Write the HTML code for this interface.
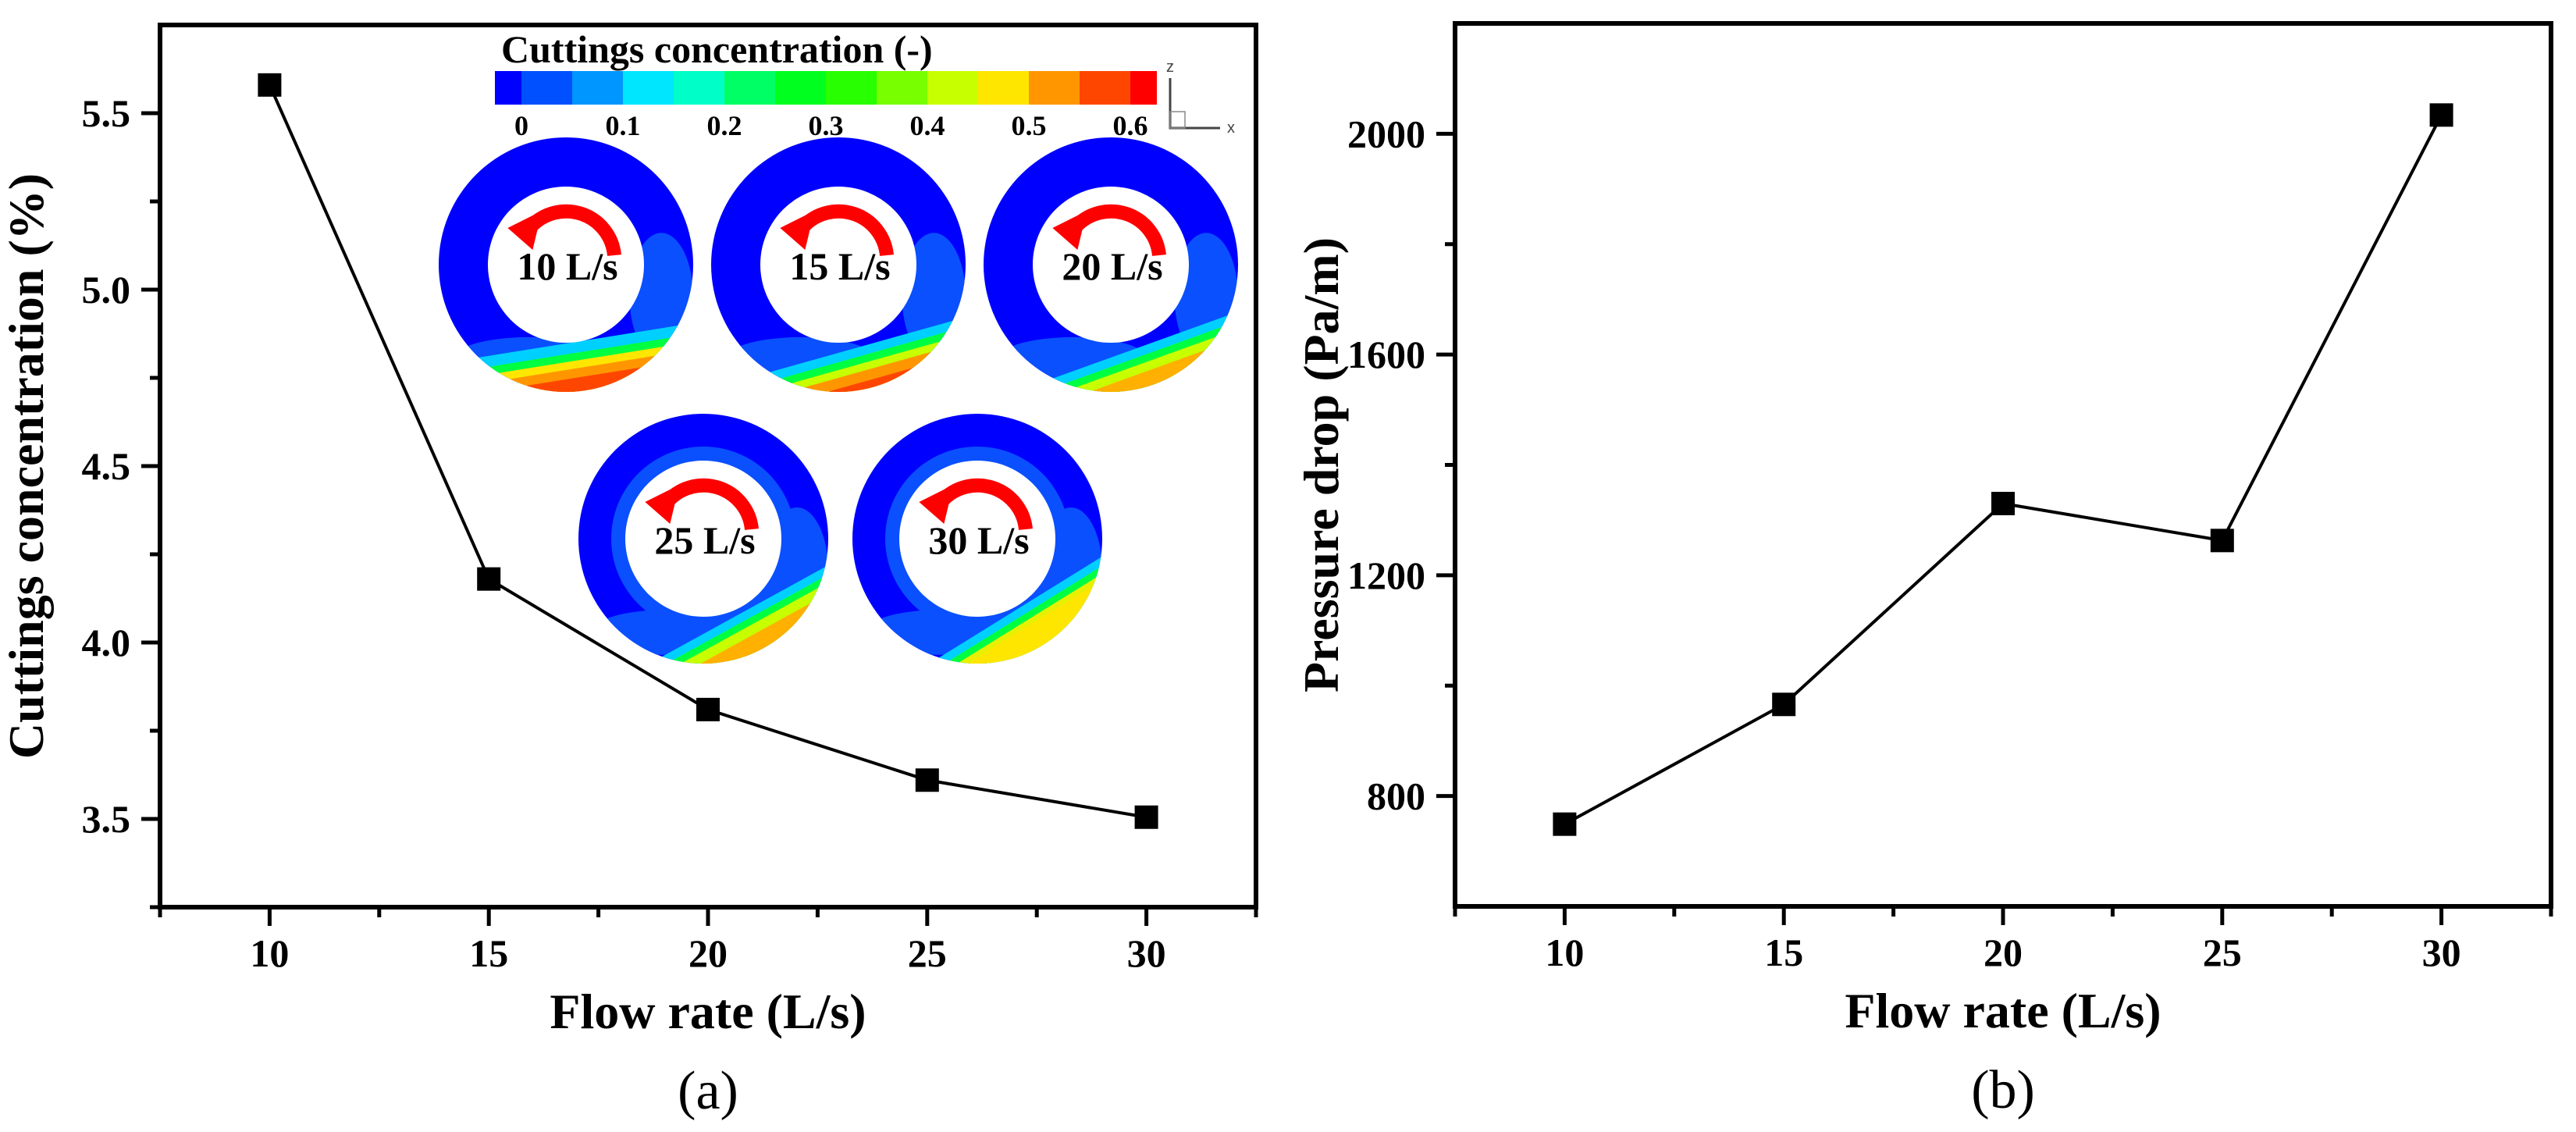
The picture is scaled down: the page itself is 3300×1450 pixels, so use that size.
<!DOCTYPE html>
<html><head><meta charset="utf-8">
<style>
html,body{margin:0;padding:0;background:#fff;}
svg{display:block;font-family:"Liberation Serif","Times New Roman",serif;}
</style></head>
<body>
<svg id="fig" width="3300" height="1450" viewBox="0 0 3300 1450" xmlns="http://www.w3.org/2000/svg">
<defs>
  <clipPath id="clipRing1"><circle cx="725" cy="339" r="163"/></clipPath>
  <clipPath id="clipRing2"><circle cx="1074" cy="339" r="163"/></clipPath>
  <clipPath id="clipRing3"><circle cx="1423" cy="339" r="163"/></clipPath>
  <clipPath id="clipRing4"><circle cx="901" cy="690" r="160"/></clipPath>
  <clipPath id="clipRing5"><circle cx="1252" cy="690" r="160"/></clipPath>
</defs>
<g id="panelA"></g>
<g id="panelB"></g>
<g id="inset"></g>
</svg>
<script>
// ---- data ----
const flowRates = [10, 15, 20, 25, 30];
const cuttingsConc = [5.58, 4.18, 3.81, 3.61, 3.505];
const pressureDrop = [749, 966, 1330, 1263, 2034];
const xTicks = [10, 15, 20, 25, 30];
const yTicksA = [3.5, 4.0, 4.5, 5.0, 5.5];
const yTickLabelsA = ["3.5", "4.0", "4.5", "5.0", "5.5"];
const yTicksB = [800, 1200, 1600, 2000];
const yTickLabelsB = ["800", "1200", "1600", "2000"];
const cbarLabels = ["0", "0.1", "0.2", "0.3", "0.4", "0.5", "0.6"];
const cbarColors = ["#0050ff","#0096ff","#00e6ff","#00ffc8","#00ff64","#00ff1e","#28ff00","#78ff00","#c8ff00","#ffe600","#ff9600","#ff4600"];
const ringLabels = ["10 L/s","15 L/s","20 L/s","25 L/s","30 L/s"];

const NS = "http://www.w3.org/2000/svg";
function mk(parent, tag, attrs, text){
  const e = document.createElementNS(NS, tag);
  for (const k in attrs) e.setAttribute(k, attrs[k]);
  if (text !== undefined) e.textContent = text;
  parent.appendChild(e);
  return e;
}

function drawPanel(g, cfg){
  const {L,R,T,B,xmin,xmax,ymin,ymax,yTicks,yLabels,yMinor,vals,ytitle,letter,prefix} = cfg;
  const sx = v => L + (v - xmin) / (xmax - xmin) * (R - L);
  const sy = v => B - (v - ymin) / (ymax - ymin) * (B - T);
  const frame = mk(g, "rect", {x:L, y:T, width:R-L, height:B-T, fill:"none", stroke:"#000", "stroke-width":6});
  
  
  // x ticks
  xTicks.forEach((v,i)=>{
    const t = mk(g, "line", {x1:sx(v), x2:sx(v), y1:B, y2:B+24, stroke:"#000","stroke-width":5});
    
    
    const lb = mk(g, "text", {x:sx(v), y:B+76, "font-size":50, "font-weight":"bold", "text-anchor":"middle"}, String(v));
    
    
  });
  for (let v = xmin; v <= xmax + 0.001; v += 2.5){
    if (xTicks.indexOf(v) >= 0) continue;
    const t = mk(g, "line", {x1:sx(v), x2:sx(v), y1:B, y2:B+13, stroke:"#000","stroke-width":5});
    
    
  }
  yTicks.forEach((v,i)=>{
    const t = mk(g, "line", {x1:L-24, x2:L, y1:sy(v), y2:sy(v), stroke:"#000","stroke-width":5});
    
    
    const lb = mk(g, "text", {x:L-38, y:sy(v)+17, "font-size":50, "font-weight":"bold", "text-anchor":"end"}, yLabels[i]);
    
    
  });
  yMinor.forEach(v=>{
    const t = mk(g, "line", {x1:L-13, x2:L, y1:sy(v), y2:sy(v), stroke:"#000","stroke-width":5});
    
    
  });
  // line
  const pts = flowRates.map((x,i)=> sx(x)+","+sy(vals[i])).join(" ");
  const pl = mk(g, "polyline", {points:pts, fill:"none", stroke:"#000","stroke-width":4});
  
  
  flowRates.forEach((x,i)=>{
    const m = mk(g, "rect", {x:sx(x)-15, y:sy(vals[i])-15, width:30, height:30, fill:"#000"});
    
    
  });
  const xt = mk(g, "text", {x:(L+R)/2, y:B+155, "font-size":64, "font-weight":"bold", "text-anchor":"middle"}, "Flow rate (L/s)");
  
  
  const yx = L - 150, yy = (T+B)/2;
  const yt = mk(g, "text", {x:yx, y:yy, "font-size":64, "font-weight":"bold", "text-anchor":"middle", transform:`rotate(-90 ${yx} ${yy})`}, ytitle);
  
  
  const lt = mk(g, "text", {x:(L+R)/2, y:B+258, "font-size":70, "text-anchor":"middle"}, letter);
  
  
}

drawPanel(document.getElementById("panelA"), {
  L:205, R:1609, T:32, B:1162, xmin:7.5, xmax:32.5, ymin:3.25, ymax:5.75,
  yTicks:yTicksA, yLabels:yTickLabelsA, yMinor:[3.25,3.75,4.25,4.75,5.25],
  vals:cuttingsConc, ytitle:"Cuttings concentration (%)", letter:"(a)", prefix:"panel-a"
});
drawPanel(document.getElementById("panelB"), {
  L:1864, R:3268, T:30, B:1161, xmin:7.5, xmax:32.5, ymin:600, ymax:2200,
  yTicks:yTicksB, yLabels:yTickLabelsB, yMinor:[1000,1400,1800],
  vals:pressureDrop, ytitle:"Pressure drop (Pa/m)", letter:"(b)", prefix:"panel-b"
});

// ---- inset: colorbar ----
const inset = document.getElementById("inset");
const cbT = mk(inset, "text", {x:642, y:80, "font-size":50, "font-weight":"bold"}, "Cuttings concentration (-)");


const cbX0 = 668, seg = 65, cbY = 91, cbH = 43;
mk(inset, "rect", {x:634, y:cbY, width:cbX0-634, height:cbH, fill:"#0000ff"});
cbarColors.forEach((c,i)=>{
  const r = mk(inset, "rect", {x:cbX0+i*seg, y:cbY, width:seg+0.5, height:cbH, fill:c});
  
  
});
mk(inset, "rect", {x:cbX0+12*seg, y:cbY, width:1482-(cbX0+12*seg), height:cbH, fill:"#ff0000"});
cbarLabels.forEach((s,i)=>{
  const t = mk(inset, "text", {x:cbX0+i*2*seg, y:173, "font-size":36, "font-weight":"bold", "text-anchor":"middle"}, s);
  
  
});
// axis triad
mk(inset, "path", {d:"M1499 100 V164 H1563", fill:"none", stroke:"#444", "stroke-width":3});
mk(inset, "rect", {x:1499, y:143, width:19, height:21, fill:"none", stroke:"#888", "stroke-width":1.5});
mk(inset, "text", {x:1494, y:92, "font-size":20, fill:"#444", "font-family":"Liberation Sans, sans-serif"}, "z");
mk(inset, "text", {x:1572, y:170, "font-size":20, fill:"#444", "font-family":"Liberation Sans, sans-serif"}, "x");

// ---- rings ----
const rings = [
  {cx:725, cy:339, R:163, r:100, clip:"clipRing1", band:[["#00d0ff",0],["#00ff40",14],["#ffe600",24],["#ff9600",34],["#ff4600",46]], tilt:-0.16, lvl:440},
  {cx:1074, cy:339, R:163, r:100, clip:"clipRing2", band:[["#00d0ff",0],["#00ff40",12],["#c8ff00",22],["#ff9600",32],["#ff4600",46]], tilt:-0.28, lvl:452},
  {cx:1423, cy:339, R:163, r:100, clip:"clipRing3", band:[["#00d0ff",0],["#00ff40",12],["#c8ff00",22],["#ffb000",34]], tilt:-0.36, lvl:458},
  {cx:901, cy:690, R:160, r:100, clip:"clipRing4", band:[["#00d0ff",0],["#00ff40",12],["#c8ff00",22],["#ffb000",36]], tilt:-0.55, lvl:812},
  {cx:1252, cy:690, R:160, r:100, clip:"clipRing5", band:[["#00d0ff",0],["#00ff40",12],["#e6f000",22],["#ffe600",30]], tilt:-0.62, lvl:812}
];
rings.forEach((rg,i)=>{
  const g = mk(inset, "g", {});
  
  
  const cg = mk(g, "g", {"clip-path":`url(#${rg.clip})`});
  mk(cg, "rect", {x:rg.cx-rg.R, y:rg.cy-rg.R, width:2*rg.R, height:2*rg.R, fill:"#0000ff"});
  // lighter patches
  mk(cg, "ellipse", {cx:rg.cx+rg.R*0.75, cy:rg.cy+rg.R*0.25, rx:rg.R*0.25, ry:rg.R*0.5, fill:"#0a50ff"});
  mk(cg, "ellipse", {cx:rg.cx-rg.R*0.3, cy:rg.cy+rg.R*0.75, rx:rg.R*0.6, ry:rg.R*0.18, fill:"#0a50ff"});
  if (i >= 3) mk(cg, "circle", {cx:rg.cx, cy:rg.cy, r:rg.r+18, fill:"#0a50ff"});
  // band layers below tilted line
  rg.band.forEach(([c,off])=>{
    const x0 = rg.cx - rg.R - 10, x1 = rg.cx + rg.R + 10;
    const y0 = rg.lvl + off + (x0 - rg.cx)*rg.tilt, y1 = rg.lvl + off + (x1 - rg.cx)*rg.tilt;
    mk(cg, "polygon", {points:`${x0},${y0} ${x1},${y1} ${x1},${rg.cy+rg.R+10} ${x0},${rg.cy+rg.R+10}`, fill:c});
  });
  mk(g, "circle", {cx:rg.cx, cy:rg.cy, r:rg.r, fill:"#fff"});
  // rotation arrow
  const ax = rg.cx, ay = rg.cy - 18, ar = 62;
  mk(g, "path", {d:`M${ax+ar} ${ay+6} A${ar} ${ar} 0 0 0 ${ax-ar*0.72} ${ay-ar*0.5}`, fill:"none", stroke:"#ff0000", "stroke-width":18});
  const tx = ax-ar*0.72, ty = ay-ar*0.5;
  const arrow = mk(g, "polygon", {points:`${tx-30},${ty+2} ${tx+14},${ty-20} ${tx+2},${ty+30}`, fill:"#ff0000"});
  
  
  const lb = mk(g, "text", {x:rg.cx+2, y:rg.cy+19, "font-size":50, "font-weight":"bold", "text-anchor":"middle"}, ringLabels[i]);
  
  
});
</script>
</body></html>
